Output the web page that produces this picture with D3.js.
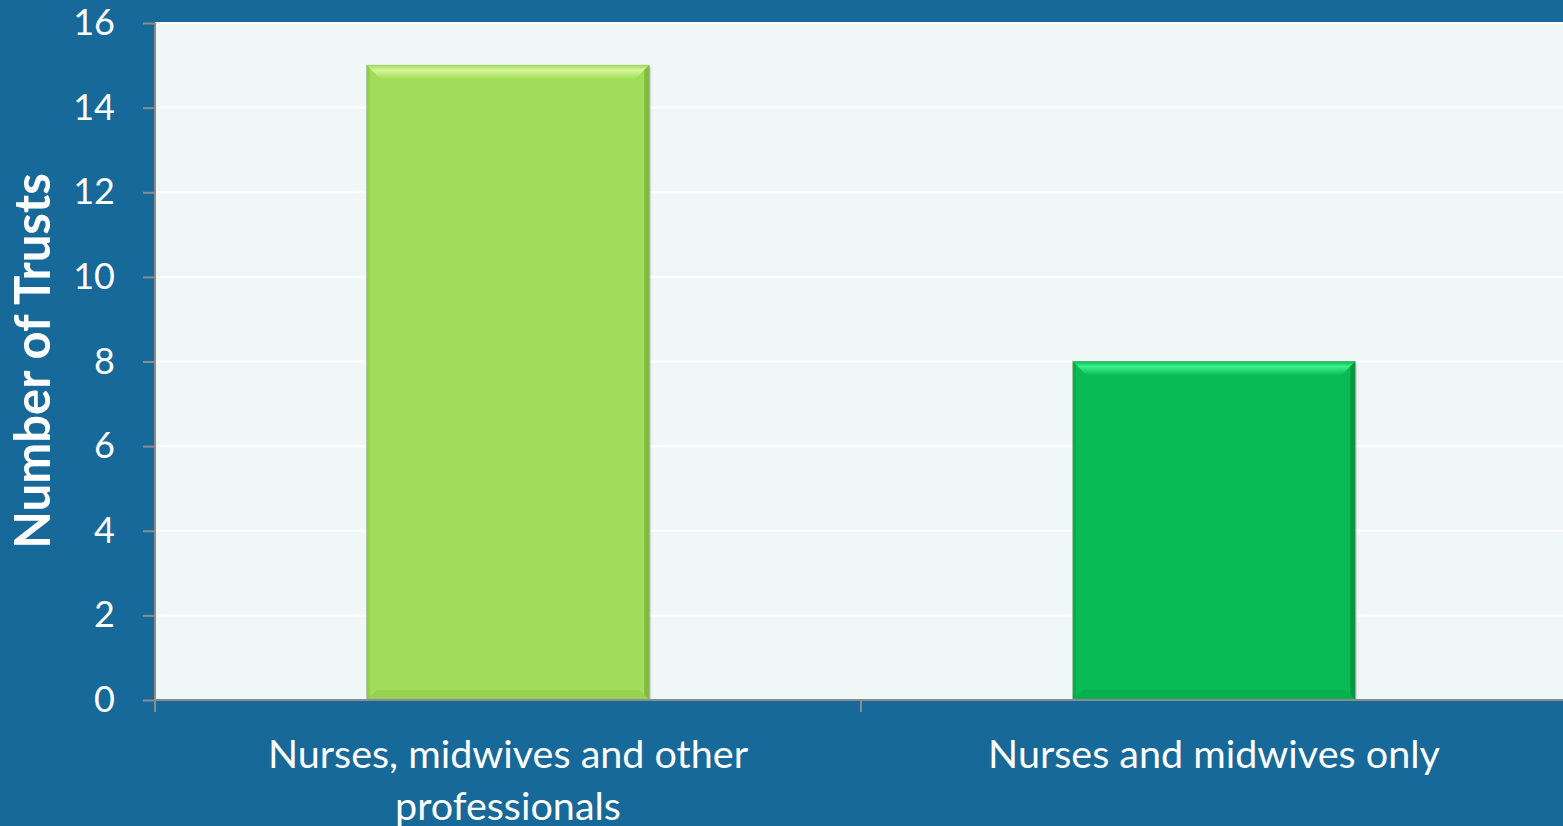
<!DOCTYPE html>
<html><head><meta charset="utf-8">
<script src="https://cdn.jsdelivr.net/npm/d3@7"></script>
<style>html,body{margin:0;padding:0;background:#17699A;overflow:hidden}</style>
</head><body>
<svg id="c" width="1563" height="826"></svg>
<script>
const categories = ["Nurses, midwives and other professionals", "Nurses and midwives only"];
const categoryLines = [["Nurses, midwives and other", "professionals"], ["Nurses and midwives only"]];
const values = [15, 8];
const yTicks = [0, 2, 4, 6, 8, 10, 12, 14, 16];
const barColors = ["#A0DD58", "#08BB55"];
const bevelTop = ["#D6F79A", "#3CF08C"];
const bevelRight = ["#7DB23E", "#05903F"];
const yTitle = "Number of Trusts";

const svg = d3.select("#c");
const W = 1563, H = 826;
const m = {left: 155, top: 23, bottom: 700, right: 1567};
svg.append("rect").attr("width", W).attr("height", H).attr("fill", "#17699A");

const x = d3.scaleBand().domain(categories).range([m.left, m.right]).paddingInner(0).paddingOuter(0);
const y = d3.scaleLinear().domain([0, 16]).range([m.bottom, m.top]);

svg.append("rect").attr("x", m.left).attr("y", m.top).attr("width", m.right - m.left).attr("height", m.bottom - m.top).attr("fill", "#EFF8F7");

// gridlines
svg.append("g").selectAll("line").data(yTicks.filter(d => d > 0)).join("line")
  .attr("x1", m.left).attr("x2", m.right).attr("y1", d => y(d)).attr("y2", d => y(d))
  .attr("stroke", "#ffffff").attr("stroke-width", 2);

const font = "Lato, 'Open Sans', sans-serif";

// bars
const bw = x.bandwidth() * 0.4;
const defs = svg.append("defs");
barColors.forEach((c, i) => {
  const lg = defs.append("linearGradient").attr("id", "top" + i).attr("x1", 0).attr("y1", 0).attr("x2", 0).attr("y2", 1);
  lg.append("stop").attr("offset", 0).attr("stop-color", barColors[i]);
  lg.append("stop").attr("offset", 0.35).attr("stop-color", bevelTop[i]);
  lg.append("stop").attr("offset", 1).attr("stop-color", barColors[i]);
});
const bars = svg.append("g").selectAll("g").data(values).join("g");
bars.each(function(v, i) {
  const g = d3.select(this);
  const x0 = x(categories[i]) + (x.bandwidth() - bw) / 2;
  const y0 = y(v), y1 = y(0);
  const b = 14;
  g.append("rect").attr("x", x0 + 2).attr("y", y0 + 2).attr("width", bw).attr("height", y1 - y0 - 2).attr("fill", "#000").attr("opacity", 0.12);
  g.append("rect").attr("x", x0).attr("y", y0).attr("width", bw).attr("height", y1 - y0).attr("fill", barColors[i]).attr("stroke", "#8aa07a").attr("stroke-width", 1).attr("stroke-opacity", 0.6);
  g.append("path").attr("d", `M${x0},${y0}L${x0 + bw},${y0}L${x0 + bw - b},${y0 + b}L${x0 + b},${y0 + b}Z`).attr("fill", `url(#top${i})`);
  g.append("path").attr("d", `M${x0 + bw},${y0}L${x0 + bw},${y1}L${x0 + bw - 5},${y1 - 5}L${x0 + bw - 5},${y0 + 5}Z`).attr("fill", bevelRight[i]).attr("opacity", 0.8);
  g.append("path").attr("d", `M${x0},${y1}L${x0 + bw},${y1}L${x0 + bw - 10},${y1 - 10}L${x0 + 10},${y1 - 10}Z`).attr("fill", bevelRight[i]).attr("opacity", 0.25);
  g.append("path").attr("d", `M${x0},${y0}L${x0},${y1}L${x0 + 3},${y1 - 3}L${x0 + 3},${y0 + 3}Z`).attr("fill", bevelRight[i]).attr("opacity", 0.35);
});

// y axis
const yAxis = svg.append("g").attr("transform", `translate(${m.left},0)`)
  .call(d3.axisLeft(y).tickValues(yTicks).tickSize(12).tickPadding(28).tickFormat(d3.format("d")));
yAxis.select(".domain").attr("stroke", "#8c8c8c").attr("stroke-width", 2).attr("d", `M0,${m.top}V${m.bottom}`);
yAxis.selectAll(".tick line").attr("stroke", "#8c8c8c").attr("stroke-width", 2);
yAxis.selectAll(".tick text").attr("fill", "#ffffff").attr("font-size", 36).attr("font-family", font);

// x axis
const xAxis = svg.append("g").attr("transform", `translate(0,${m.bottom})`)
  .call(d3.axisBottom(x).tickSize(0).tickFormat(""));
xAxis.select(".domain").attr("stroke", "#8c8c8c").attr("stroke-width", 2).attr("d", `M${m.left},0H${m.right}`);
xAxis.append("g").selectAll("line").data([0, 1, 2]).join("line")
  .attr("x1", d => m.left + d * x.bandwidth()).attr("x2", d => m.left + d * x.bandwidth())
  .attr("y1", 0).attr("y2", 12).attr("stroke", "#8c8c8c").attr("stroke-width", 2);

const lbl = svg.append("g").selectAll("text").data(categories).join("text")
  .attr("x", d => x(d) + x.bandwidth() / 2).attr("y", 768)
  .attr("text-anchor", "middle").attr("fill", "#fff").attr("font-size", 39.5).attr("font-family", font);
lbl.each(function(d, i) {
  d3.select(this).selectAll("tspan").data(categoryLines[i]).join("tspan")
    .attr("x", x(d) + x.bandwidth() / 2).attr("dy", (t, j) => j === 0 ? 0 : 52).text(t => t);
});

svg.append("text").attr("transform", "translate(50,361) rotate(-90)").attr("text-anchor", "middle")
  .attr("fill", "#fff").attr("font-size", 49).attr("font-weight", "bold").attr("font-family", font).text(yTitle);
</script>
</body></html>
